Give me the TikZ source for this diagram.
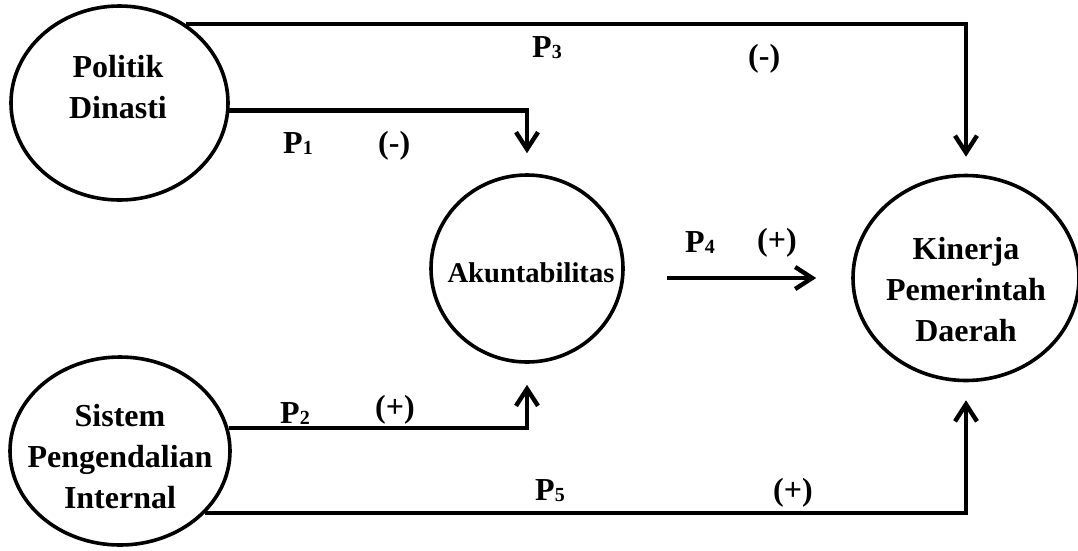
\documentclass[tikz,border=0pt]{standalone}
\usepackage{fontspec}
\setmainfont{Liberation Serif}
\usetikzlibrary{shapes.geometric,arrows.meta,calc}
\newcommand{\pathlbl}[1]{P\raisebox{-1pt}{\fontsize{20}{20}\selectfont #1}}

\begin{document}
\begin{tikzpicture}[x=1pt,y=-1pt,
  var/.style={ellipse,draw,line width=3.6pt,inner sep=0pt},
  vartext/.style={align=center,inner sep=0pt,font=\bfseries\fontsize{32}{41}\selectfont},
  lbl/.style={anchor=base west,inner sep=0pt,font=\bfseries\fontsize{32}{38}\selectfont},
  link/.style={line width=4.4pt,-{Straight Barb[length=17pt,width=22pt]}}]
\useasboundingbox (0,0) rectangle (1078,550);

% Variables
\node[var,minimum width=217pt,minimum height=194pt] (pd) at (119.5,103) {};
\node[var,minimum width=220pt,minimum height=188pt] (spi) at (120,451) {};
\node[var,minimum width=192pt,minimum height=187pt] (ak) at (527,268.5) {};
\node[var,minimum width=226pt,minimum height=205pt] (kpd) at (966,278) {};

\node[vartext] (pdtext) at (118,87) {Politik\\Dinasti};
\node[vartext] (spitext) at (120,456.5) {Sistem\\Pengendalian\\Internal};
\node[vartext,font=\bfseries\fontsize{28.6}{34}\selectfont,anchor=base] (aktext) at (531,282) {Akuntabilitas};
\node[vartext] (kpdtext) at (966,289.5) {Kinerja\\Pemerintah\\Daerah};

% Paths
\draw[link,shorten >=17pt] (pd.50) -| (kpd.north);
\draw[link,shorten >=20pt] (pd.-4) -| (ak.north);
\draw[link,shorten >=21pt] (spi.12.7) -| (ak.south);
\draw[link,shorten >=18pt] (spi.-36) -| (kpd.south);
\draw[link,shorten <=42pt,shorten >=35pt] (ak.east |- kpd.west) -- (kpd.west);

% Path labels
\node[lbl] (p1) at (283,153) {\pathlbl{1}};
\node[lbl] (s1) at (378,153) {(-)};
\node[lbl] (p3) at (532,57) {\pathlbl{3}};
\node[lbl] (s3) at (748,66) {(-)};
\node[lbl] (p4) at (685,252) {\pathlbl{4}};
\node[lbl] (s4) at (757,250) {(+)};
\node[lbl] (p2) at (280,423) {\pathlbl{2}};
\node[lbl] (s2) at (375,417) {(+)};
\node[lbl] (p5) at (535,500) {\pathlbl{5}};
\node[lbl] (s5) at (773,500) {(+)};
\end{tikzpicture}
\end{document}
